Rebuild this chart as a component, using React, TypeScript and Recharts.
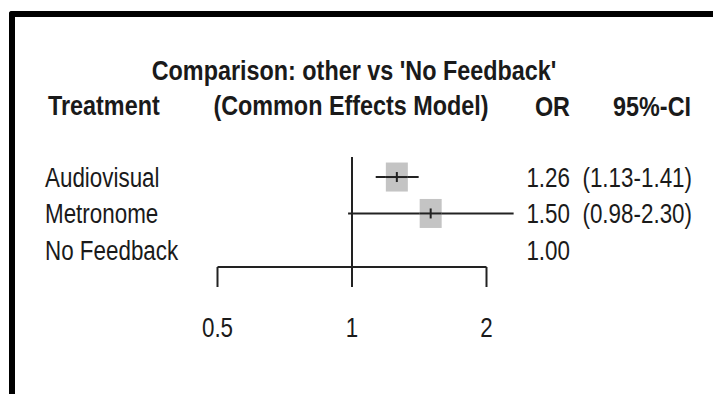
import React from 'react';
import { ScatterChart, Scatter, XAxis, YAxis, ErrorBar, ReferenceLine } from 'recharts';

const treatments = ['Audiovisual', 'Metronome', 'No Feedback'];
const oddsRatios = [1.26, 1.5, 1.0];
const ciLower: (number | null)[] = [1.13, 0.98, null];
const ciUpper: (number | null)[] = [1.41, 2.3, null];
const rowPos = [3, 2, 1];
const xTicks = [0.5, 1, 2];

const title = "Comparison: other vs 'No Feedback'";
const headers = { treatment: 'Treatment', model: '(Common Effects Model)', or: 'OR', ci: '95%-CI' };

const FONT = '"Liberation Sans", Arial, sans-serif';
const INK = '#1a1a1a';

// rows with an estimate (reference row has none)
const points = treatments
  .map((name, i) => ({
    name,
    y: rowPos[i],
    or: oddsRatios[i],
    err: ciLower[i] == null ? null : [oddsRatios[i] - (ciLower[i] as number), (ciUpper[i] as number) - oddsRatios[i]],
  }))
  .filter(d => d.err != null);

// R output uses a condensed sans, squeeze Liberation Sans horizontally
const NarrowText = ({ x, y, anchor = 'start', bold = false, children }: any) => (
  <text
    transform={`translate(${x},${y}) scale(${bold ? 0.835 : 0.8},1)`}
    textAnchor={anchor}
    fontFamily={FONT}
    fontSize={28}
    fontWeight={bold ? 'bold' : 'normal'}
    fill={INK}
  >
    {children}
  </text>
);

const SquareMark = (props: any) => {
  const { cx, cy } = props;
  return (
    <g>
      <rect x={cx - 11} y={cy - 14.5} width={22} height={29} fill="#c4c4c4" />
      <line x1={cx - 11} x2={cx + 11} y1={cy} y2={cy} stroke="#222" strokeWidth={2} />
      <line x1={cx} x2={cx} y1={cy - 5} y2={cy + 5} stroke="#222" strokeWidth={2} />
    </g>
  );
};

// one table row per y tick: name on the left, OR and CI on the right
const RowTick = (props: any) => {
  const i = rowPos.indexOf(props.payload.value);
  if (i < 0) return null;
  const lo = ciLower[i];
  const hi = ciUpper[i];
  const y = props.y + 10;
  return (
    <g>
      <NarrowText x={45} y={y}>{treatments[i]}</NarrowText>
      <NarrowText x={570} y={y} anchor="end">{oddsRatios[i].toFixed(2)}</NarrowText>
      {lo != null && hi != null && (
        <NarrowText x={692} y={y} anchor="end">{`(${lo.toFixed(2)}-${hi.toFixed(2)})`}</NarrowText>
      )}
    </g>
  );
};

const XTick = (props: any) => (
  <NarrowText x={props.x} y={props.y + 50} anchor="middle">{props.payload.value}</NarrowText>
);

export default function App() {
  return (
    <div style={{ position: 'absolute', left: 0, top: 0, width: 713, height: 394, background: '#fff', overflow: 'hidden' }}>
      <div
        style={{
          position: 'absolute', left: 9, top: 11, width: 720, height: 400,
          borderTop: '6px solid #000', borderLeft: '6px solid #000', borderTopLeftRadius: 3,
        }}
      />
      <ScatterChart width={713} height={394} margin={{ top: 157, right: 92, bottom: 47, left: 0 }}>
        <XAxis
          type="number"
          dataKey="or"
          scale="log"
          domain={[0.25, 4]}
          allowDataOverflow
          ticks={xTicks}
          axisLine={false}
          tickLine={{ stroke: '#222', strokeWidth: 2 }}
          tickSize={20}
          tickMargin={0}
          height={80}
          tick={XTick}
        />
        <YAxis
          type="number"
          dataKey="y"
          domain={[0.53, 3.55]}
          ticks={rowPos}
          width={83}
          axisLine={false}
          tickLine={false}
          tick={RowTick}
        />
        <ReferenceLine x={1} stroke="#222" strokeWidth={2} />
        <ReferenceLine
          segment={[{ x: xTicks[0], y: 0.53 }, { x: xTicks[xTicks.length - 1], y: 0.53 }]}
          stroke="#222"
          strokeWidth={2}
        />
        <Scatter data={points} shape={SquareMark} isAnimationActive={false}>
          <ErrorBar dataKey="err" direction="x" width={0} stroke="#222" strokeWidth={2} />
        </Scatter>
      </ScatterChart>
      <svg width={713} height={394} style={{ position: 'absolute', left: 0, top: 0, pointerEvents: 'none' }}>
        <NarrowText x={354} y={80} anchor="middle" bold>{title}</NarrowText>
        <NarrowText x={48} y={115} bold>{headers.treatment}</NarrowText>
        <NarrowText x={351} y={115} anchor="middle" bold>{headers.model}</NarrowText>
        <NarrowText x={570} y={116} anchor="end" bold>{headers.or}</NarrowText>
        <NarrowText x={691} y={116} anchor="end" bold>{headers.ci}</NarrowText>
      </svg>
    </div>
  );
}
